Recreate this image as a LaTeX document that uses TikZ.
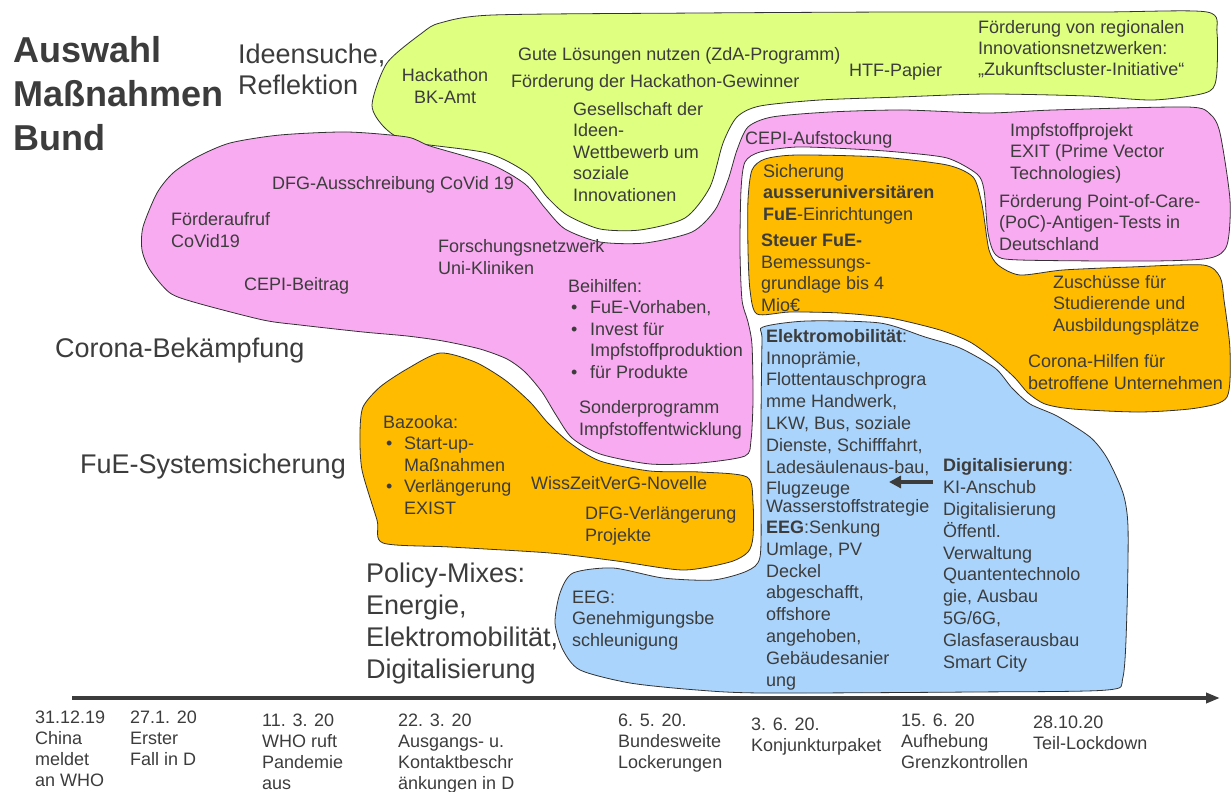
\documentclass[tikz,border=0pt]{standalone}
\usepackage{fontspec}
\setmainfont{Liberation Sans}
\usetikzlibrary{arrows.meta}

\definecolor{ideagreen}{RGB}{222,255,128}
\definecolor{coronapink}{RGB}{249,171,241}
\definecolor{fueorange}{RGB}{255,187,0}
\definecolor{policyblue}{RGB}{170,212,251}
\definecolor{ink}{RGB}{60,60,60}
\definecolor{rim}{RGB}{50,50,50}

\newcommand{\bulitem}[1]{\makebox[#1][l]{\hspace{3pt}\textbullet}}
\newcommand{\bulskip}[1]{\hspace*{#1}}

\begin{document}
\begin{tikzpicture}[x=1pt, y=-1pt,
    blob/.style={draw=rim, line width=0.8pt},
    lbl/.style={font=\fontsize{18}{21.5}\selectfont, text=ink, align=left, inner sep=0pt, anchor=base west},
    bluelbl/.style={lbl, font=\fontsize{18}{21.8}\selectfont},
    datelbl/.style={lbl, font=\fontsize{18}{21}\selectfont},
    topic/.style={lbl, font=\fontsize{27}{32}\selectfont},
    headline/.style={lbl, font=\fontsize{36}{44}\selectfont\bfseries},
    pointer/.style={draw=ink, line width=4pt, -{Triangle[length=12pt, width=12pt]}},
    timeline/.style={draw=ink, line width=3.5pt, -{Triangle[length=14pt, width=10pt]}}]

    \useasboundingbox (0,0) rectangle (1232,792);

    % Blobs
    \draw[blob, fill=ideagreen] plot[smooth cycle, tension=0.45] coordinates {
        (440,23) (493,15) (700,13) (900,12) (1100,12) (1207,12) (1217,33) (1216,80)
        (1205,93) (1153,100) (1087,96) (987,94) (900,97) (820,100) (760,106) (737,117)
        (723,143) (710,187) (685,218) (640,230) (600,229) (567,215) (547,197) (527,173)
        (487,153) (410,142) (385,128) (372,105) (387,63) (422,33)};
    \draw[blob, fill=coronapink] plot[smooth cycle, tension=0.45] coordinates {
        (157,193) (173,173) (197,157) (230,143) (280,135) (347,132) (407,137) (430,146)
        (490,164) (525,184) (545,208) (565,229) (600,242) (645,243) (692,232) (715,210)
        (728,180) (737,150) (748,127) (772,117) (830,112) (903,110) (987,113) (1053,110)
        (1187,107) (1210,114) (1220,133) (1230,200) (1227,245) (1210,258) (1153,261)
        (1020,260) (996,255) (988,233) (984,190) (977,174) (947,158) (897,152) (853,149)
        (797,147) (760,152) (745,162) (741,190) (740,250) (742,300) (748,322) (752,345)
        (753,400) (751,440) (745,456) (700,463) (650,464) (600,454) (572,438) (556,415)
        (542,392) (525,372) (507,359) (480,349) (443,341) (407,336) (363,332) (300,325)
        (263,320) (197,303) (170,293) (150,270) (142,250) (143,227)};
    \draw[blob, fill=fueorange] plot[smooth cycle, tension=0.45] coordinates {
        (752,170) (765,159) (797,155) (880,157) (947,165) (973,177) (981,200) (984,217)
        (989,250) (998,265) (1020,275) (1063,270) (1130,267) (1203,265) (1220,277)
        (1224,300) (1230,350) (1227,397) (1197,408) (1140,412) (1073,409) (1045,404)
        (1028,393) (1015,378) (995,360) (970,342) (940,330) (890,318) (840,313) (790,312)
        (757,314) (750,290) (748,250) (748,200)};
    \draw[blob, fill=fueorange] plot[smooth cycle, tension=0.45] coordinates {
        (360,433) (363,407) (380,387) (407,369) (440,353) (475,362) (505,380) (530,402)
        (548,423) (570,443) (600,461) (650,471) (700,472) (747,477) (753,503) (753,537)
        (748,552) (730,562) (683,570) (617,561) (550,553) (450,547) (383,543) (377,520)
        (362,470)};
    \draw[blob, fill=policyblue] plot[smooth cycle, tension=0.45] coordinates {
        (763,327) (807,321) (880,323) (925,337) (960,348) (995,368) (1012,388) (1030,404)
        (1057,416) (1090,437) (1107,458) (1123,493) (1128,527) (1127,610) (1123,677)
        (1107,690) (973,692) (763,693) (697,690) (630,683) (580,670) (563,650) (555,623)
        (560,593) (573,573) (613,568) (663,578) (713,580) (747,571) (760,557) (761,500)
        (761,420) (762,340)};

    % Title and topics (anchored at the last baseline)
    \node[headline] (title) at (13,150) {Auswahl\\Maßnahmen\\Bund};
    \node[topic] (ideas) at (238,95) {Ideensuche,\\Reflektion};
    \node[topic] (corona) at (55,357) {Corona-Bekämpfung};
    \node[topic] (fue) at (80,473) {FuE-Systemsicherung};
    \node[topic] (policy) at (366,678) {Policy-Mixes:\\Energie,\\Elektromobilität,\\Digitalisierung};

    % Ideensuche
    \node[lbl, align=center, anchor=base] (hack) at (445,103) {Hackathon\\BK-Amt};
    \node[lbl] (gute) at (518,61) {Gute Lösungen nutzen (ZdA-Programm)};
    \node[lbl] (gewinner) at (511,88) {Förderung der Hackathon-Gewinner};
    \node[lbl] (htf) at (849,77) {HTF-Papier};
    \node[lbl] (cluster) at (978,76) {Förderung von regionalen\\Innovationsnetzwerken:\\„Zukunftscluster-Initiative“};
    \node[lbl] (gesell) at (573,201) {Gesellschaft der\\Ideen-\\Wettbewerb um\\soziale\\Innovationen};

    % Corona
    \node[lbl] (cepiauf) at (745,144) {CEPI-Aufstockung};
    \node[lbl] (exit) at (1010,179) {Impfstoffprojekt\\EXIT (Prime Vector\\Technologies)};
    \node[lbl] (poc) at (999,250) {Förderung Point-of-Care-\\(PoC)-Antigen-Tests in\\Deutschland};
    \node[lbl] (dfg) at (272,189) {DFG-Ausschreibung CoVid 19};
    \node[lbl] (aufruf) at (171,247) {Förderaufruf\\CoVid19};
    \node[lbl] (cepibei) at (244,290) {CEPI-Beitrag};
    \node[lbl] (netz) at (438,274) {Forschungsnetzwerk\\Uni-Kliniken};
    \node[lbl] (beihilfe) at (568,378) {Beihilfen:\\\bulitem{22pt}FuE-Vorhaben,\\\bulitem{22pt}Invest für\\\bulskip{22pt}Impfstoffproduktion\\\bulitem{22pt}für Produkte};
    \node[lbl] (sonder) at (579,435) {Sonderprogramm\\Impfstoffentwicklung};

    % FuE
    \node[lbl] (sicherung) at (763,220) {Sicherung\\\textbf{ausseruniversitären}\\\textbf{FuE}-Einrichtungen};
    \node[lbl] (steuer) at (761,311) {\textbf{Steuer FuE-}\\Bemessungs-\\grundlage bis 4\\Mio€};
    \node[lbl] (zuschuss) at (1053,331) {Zuschüsse für\\Studierende und\\Ausbildungsplätze};
    \node[lbl] (hilfen) at (1028,389) {Corona-Hilfen für\\betroffene Unternehmen};
    \node[lbl] (bazooka) at (383,514) {Bazooka:\\\bulitem{21pt}Start-up-\\\bulskip{21pt}Maßnahmen\\\bulitem{21pt}Verlängerung\\\bulskip{21pt}EXIST};
    \node[lbl] (wiss) at (531,489) {WissZeitVerG-Novelle};
    \node[lbl] (dfgverl) at (585,541) {DFG-Verlängerung\\Projekte};

    % Policy-Mixes
    \node[bluelbl] (emob) at (766,686) {\textbf{Elektromobilität}:\\Innoprämie,\\Flottentauschprogra\\mme Handwerk,\\LKW, Bus, soziale\\Dienste, Schifffahrt,\\Ladesäulenaus-bau,\\Flugzeuge\\[-4pt]Wasserstoffstrategie\\[-1pt]\textbf{EEG}:Senkung\\Umlage, PV\\Deckel\\abgeschafft,\\offshore\\angehoben,\\Gebäudesanier\\ung};
    \node[bluelbl] (digi) at (943,668) {\textbf{Digitalisierung}:\\KI-Anschub\\Digitalisierung\\Öffentl.\\Verwaltung\\Quantentechnolo\\gie, Ausbau\\5G/6G,\\Glasfaserausbau\\Smart City};
    \node[lbl] (eeg) at (572,646) {EEG:\\Genehmigungsbe\\schleunigung};
    \coordinate (digitail) at (933,482);
    \coordinate (digihead) at (889,482);
    \draw[pointer] (digitail) -- (digihead);

    % Timeline
    \coordinate (tlstart) at (72,698);
    \coordinate (tlend) at (1220,698);
    \draw[timeline] (tlstart) -- (tlend);
    \node[datelbl] (d1) at (35,786) {31.12.19\\China\\meldet\\an WHO};
    \node[datelbl] (d2) at (130,765) {27.1. 20\\Erster\\Fall in D};
    \node[datelbl] (d3) at (262,789) {11. 3. 20\\WHO ruft\\Pandemie\\aus};
    \node[datelbl] (d4) at (398,789) {22. 3. 20\\Ausgangs- u.\\Kontaktbeschr\\änkungen in D};
    \node[datelbl] (d5) at (618,768) {6. 5. 20.\\Bundesweite\\Lockerungen};
    \node[datelbl] (d6) at (751,751) {3. 6. 20.\\Konjunkturpaket};
    \node[datelbl] (d7) at (901,768) {15. 6. 20\\Aufhebung\\Grenzkontrollen};
    \node[datelbl] (d8) at (1033,749) {28.10.20\\Teil-Lockdown};
\end{tikzpicture}
\end{document}
